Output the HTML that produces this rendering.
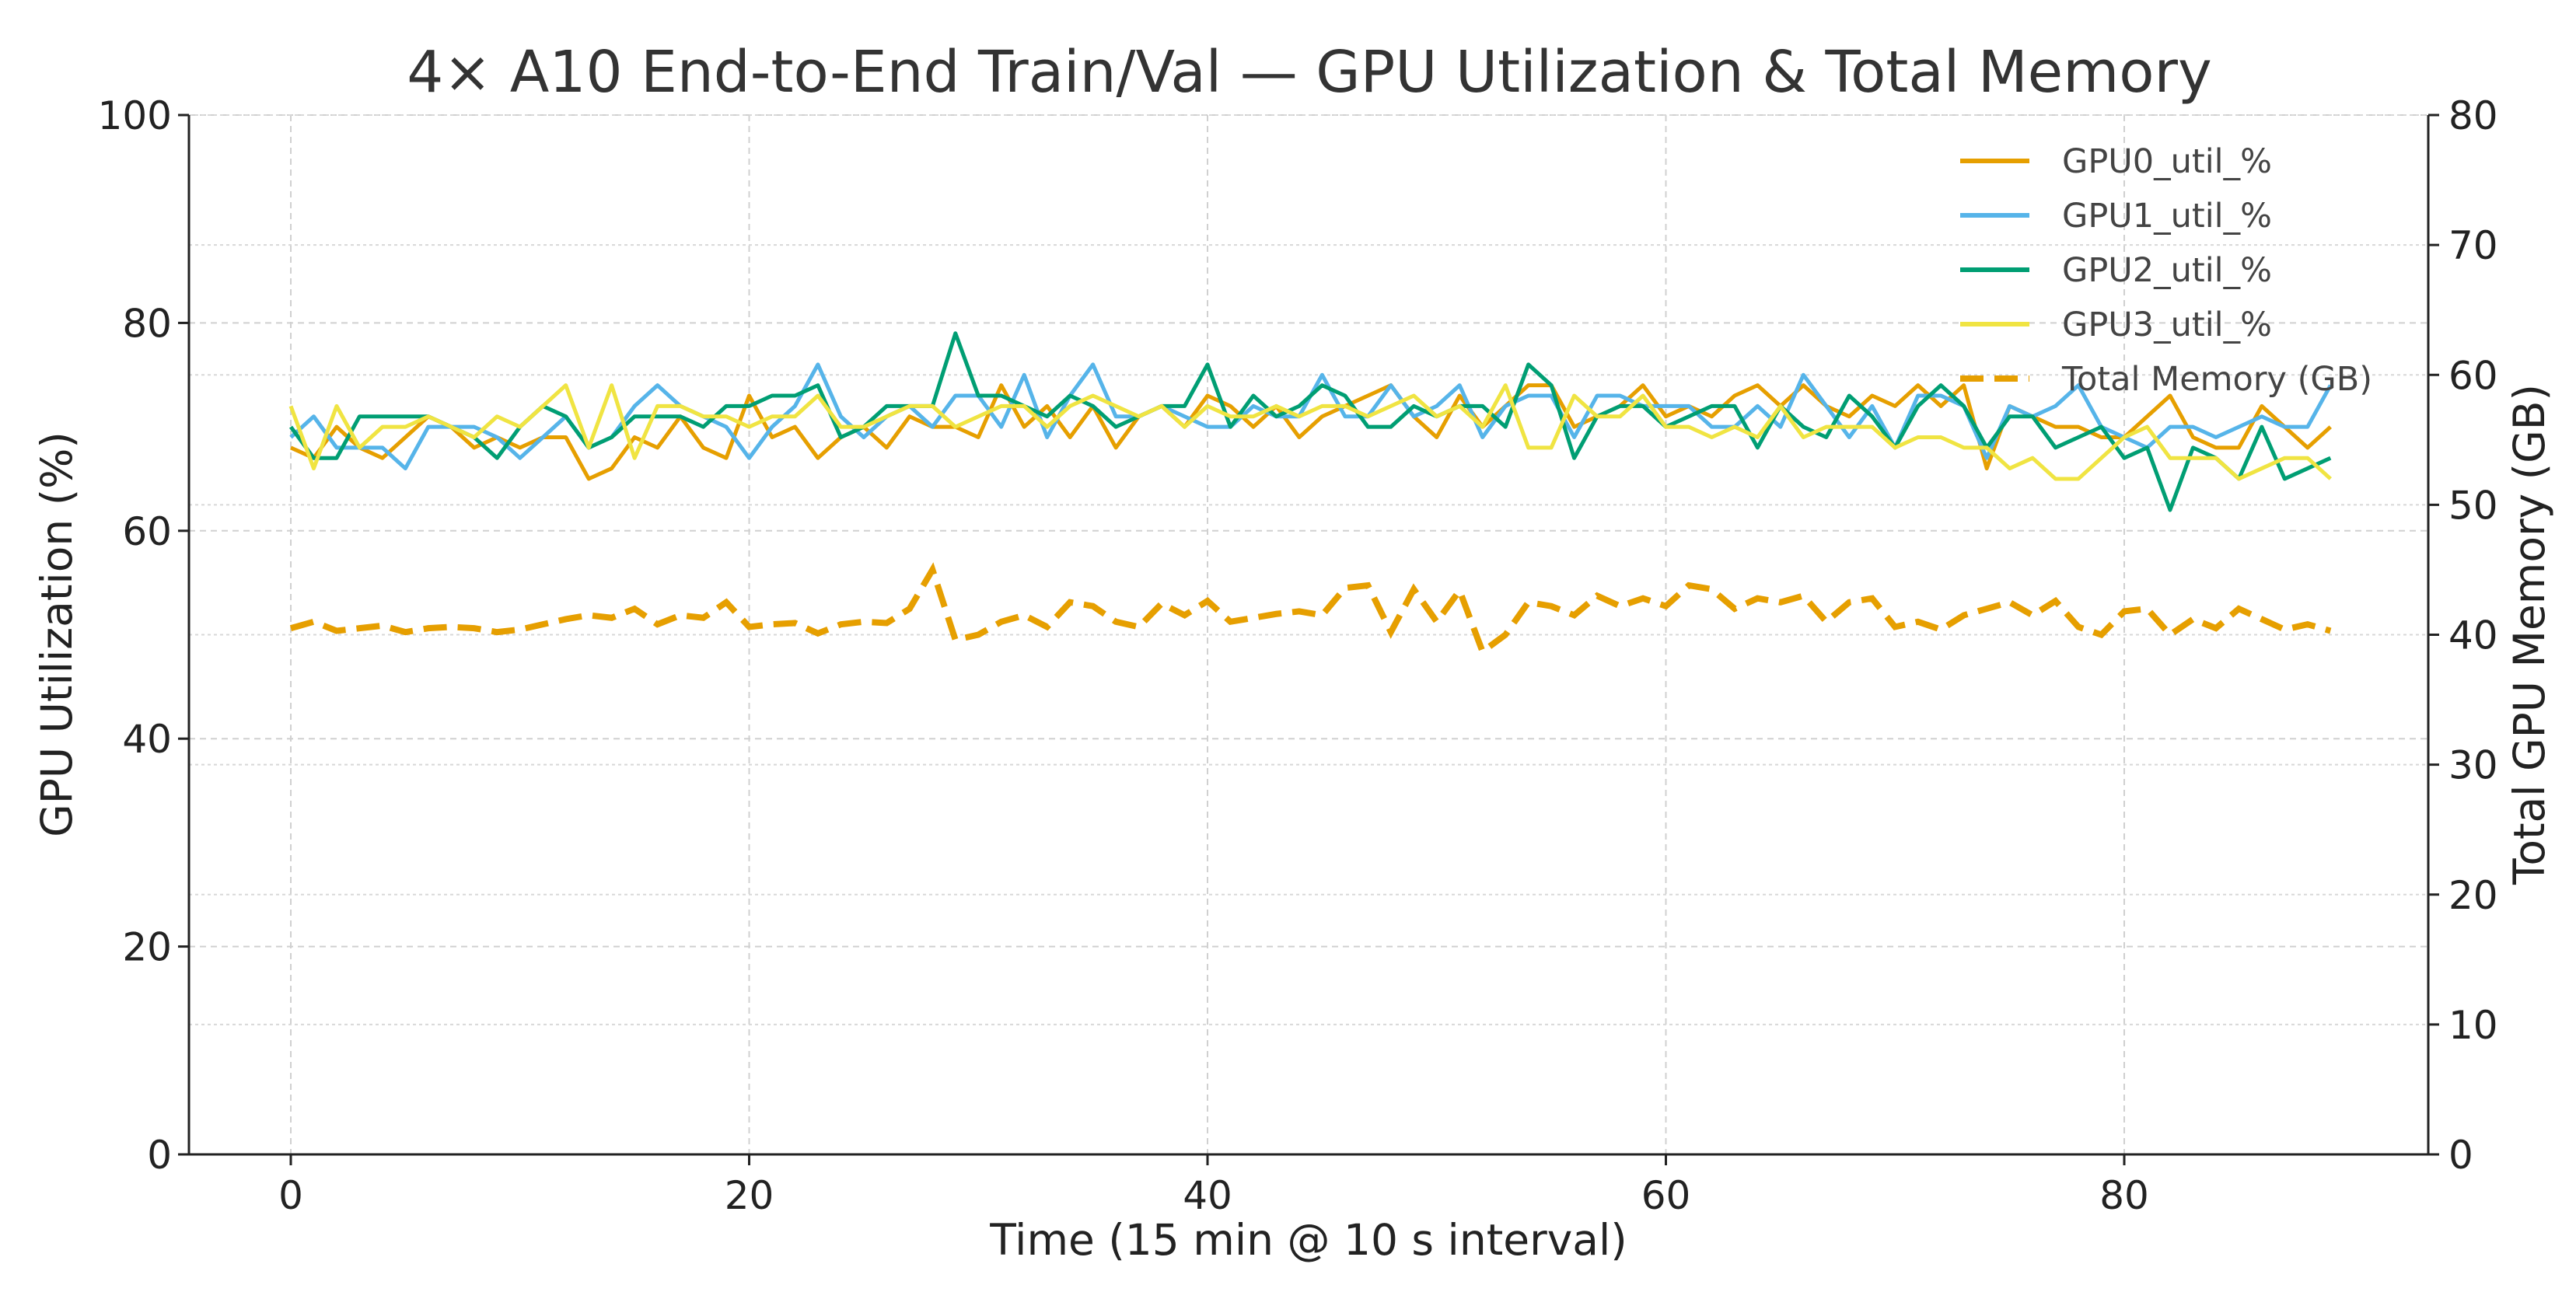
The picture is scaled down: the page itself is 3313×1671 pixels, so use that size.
<!DOCTYPE html>
<html><head><meta charset="utf-8"><style>
html,body{margin:0;padding:0;background:#fff;}
svg text{font-family:"DejaVu Sans","Liberation Sans",sans-serif;}
</style></head><body>
<svg id="chart" width="3313" height="1666" xmlns="http://www.w3.org/2000/svg">
<rect width="3313" height="1666" fill="#fff"/>
<g id="grid"></g><g id="series"></g><g id="axes"></g><g id="legend"></g>
</svg>
<script>
const gpu0 = [68,67,70,68,67,69,71,70,68,69,68,69,69,65,66,69,68,71,68,67,73,69,70,67,69,70,68,71,70,70,69,74,70,72,69,72,68,71,72,70,73,72,70,72,69,71,72,73,74,71,69,73,70,72,74,74,70,71,72,74,71,72,71,73,74,72,74,72,71,73,72,74,72,74,66,72,71,70,70,69,69,71,73,69,68,68,72,70,68,70];
const gpu1 = [69,71,68,68,68,66,70,70,70,69,67,69,71,68,69,72,74,72,71,70,67,70,72,76,71,69,71,72,70,73,73,70,75,69,73,76,71,71,72,71,70,70,72,71,71,75,71,71,74,71,72,74,69,72,73,73,69,73,73,72,72,72,70,70,72,70,75,72,69,72,68,73,73,72,67,72,71,72,74,70,69,68,70,70,69,70,71,70,70,74];
const gpu2 = [70,67,67,71,71,71,71,70,69,67,70,72,71,68,69,71,71,71,70,72,72,73,73,74,69,70,72,72,72,79,73,73,72,71,73,72,70,71,72,72,76,70,73,71,72,74,73,70,70,72,71,72,72,70,76,74,67,71,72,72,70,71,72,72,68,72,70,69,73,71,68,72,74,72,68,71,71,68,69,70,67,68,62,68,67,65,70,65,66,67];
const gpu3 = [72,66,72,68,70,70,71,70,69,71,70,72,74,68,74,67,72,72,71,71,70,71,71,73,70,70,71,72,72,70,71,72,72,70,72,73,72,71,72,70,72,71,71,72,71,72,72,71,72,73,71,72,70,74,68,68,73,71,71,73,70,70,69,70,69,72,69,70,70,70,68,69,69,68,68,66,67,65,65,67,69,70,67,67,67,65,66,67,67,65];
const mem = [40.5,41,40.3,40.5,40.7,40.2,40.5,40.6,40.5,40.2,40.4,40.8,41.2,41.5,41.3,42,40.8,41.5,41.3,42.5,40.6,40.8,40.9,40.1,40.8,41,40.9,42,45,39.6,40,41,41.5,40.6,42.5,42.2,41,40.6,42.4,41.5,42.6,41,41.3,41.6,41.8,41.5,43.6,43.8,40.2,43.5,41,43.4,38.7,40,42.5,42.2,41.5,43,42.2,42.8,42.2,43.8,43.5,42,42.8,42.5,43,41,42.5,42.8,40.6,41,40.4,41.5,42,42.5,41.5,42.6,40.6,40,41.8,42,40,41.2,40.5,42,41.2,40.4,40.8,40.3];
const xTicks = [0,20,40,60,80];
const yLeftTicks = [0,20,40,60,80,100];
const yRightTicks = [0,10,20,30,40,50,60,70,80];
const seriesNames = ["GPU0_util_%","GPU1_util_%","GPU2_util_%","GPU3_util_%","Total Memory (GB)"];

const L=243,R=3123,T=148,B=1485;
const X0=374,XU=(2732-374)/80;
const xs=v=>X0+v*XU;
const yl=v=>B-(v/100)*(B-T);
const yr=v=>B-(v/80)*(B-T);
const NS="http://www.w3.org/2000/svg";
function mk(tag,attrs,parent,text){const e=document.createElementNS(NS,tag);for(const k in attrs)e.setAttribute(k,attrs[k]);if(text!==undefined)e.textContent=text;parent.appendChild(e);return e;}
const grid=document.getElementById('grid'),ser=document.getElementById('series'),ax=document.getElementById('axes'),leg=document.getElementById('legend'),svg=document.getElementById('chart');

xTicks.forEach(t=>{const g=mk('line',{x1:xs(t),x2:xs(t),y1:T,y2:B,stroke:'#d0d0d0','stroke-width':2,'stroke-dasharray':'8,6'},grid);

});
yLeftTicks.forEach(t=>{const g=mk('line',{x1:L,x2:R,y1:yl(t),y2:yl(t),stroke:'#d0d0d0','stroke-width':2,'stroke-dasharray':'8,6'},grid);

});
yRightTicks.forEach(t=>{const g=mk('line',{x1:L,x2:R,y1:yr(t),y2:yr(t),stroke:'#d8d8d8','stroke-width':2,'stroke-dasharray':'4,4'},grid);

});

const colors=['#E69F00','#56B4E9','#009E73','#F0E442'];
[gpu0,gpu1,gpu2,gpu3].forEach((arr,i)=>{
 const p=mk('polyline',{points:arr.map((v,j)=>xs(j)+','+yl(v)).join(' '),fill:'none',stroke:colors[i],'stroke-width':5,'stroke-linejoin':'round'},ser);
 
 
});
const mp=mk('polyline',{points:mem.map((v,j)=>xs(j)+','+yr(v)).join(' '),fill:'none',stroke:'#E69F00','stroke-width':8,'stroke-dasharray':'30,14'},ser);



const fr=mk('path',{d:`M${L},${T}V${B}H${R}V${T}`,fill:'none',stroke:'#222','stroke-width':3},ax);


xTicks.forEach(t=>{mk('line',{x1:xs(t),x2:xs(t),y1:B,y2:B+14,stroke:'#222','stroke-width':3},ax);
 const tx=mk('text',{x:xs(t),y:B+70,'font-size':50,'text-anchor':'middle',fill:'#222'},ax,t);
 
 });
yLeftTicks.forEach(t=>{mk('line',{x1:L-14,x2:L,y1:yl(t),y2:yl(t),stroke:'#222','stroke-width':3},ax);
 const tx=mk('text',{x:L-22,y:yl(t)+18,'font-size':50,'text-anchor':'end',fill:'#222'},ax,t);
 
 });
yRightTicks.forEach(t=>{mk('line',{x1:R,x2:R+14,y1:yr(t),y2:yr(t),stroke:'#222','stroke-width':3},ax);
 const tx=mk('text',{x:R+26,y:yr(t)+18,'font-size':50,'text-anchor':'start',fill:'#222'},ax,t);
 
 });

const ti=mk('text',{x:1684,y:118,'font-size':74,'text-anchor':'middle',fill:'#333'},svg,'4× A10 End-to-End Train/Val — GPU Utilization & Total Memory');


const xl=mk('text',{x:1683,y:1614,'font-size':55,'text-anchor':'middle',fill:'#222'},svg,'Time (15 min @ 10 s interval)');


const ylt=mk('text',{x:0,y:0,'font-size':55,'text-anchor':'middle',fill:'#222',transform:'translate(92,816) rotate(-90)'},svg,'GPU Utilization (%)');


const yrt=mk('text',{x:0,y:0,'font-size':55,'text-anchor':'middle',fill:'#222',transform:'translate(3272,816) rotate(-90)'},svg,'Total GPU Memory (GB)');



seriesNames.forEach((n,i)=>{
 const y=207+i*70;
 const g=mk('g',{},leg);
 
 
 if(i<4) mk('line',{x1:2521,x2:2610,y1:y,y2:y,stroke:colors[i],'stroke-width':6},g);
 else mk('line',{x1:2521,x2:2610,y1:y,y2:y,stroke:'#E69F00','stroke-width':8,'stroke-dasharray':'30,14'},g);
 mk('text',{x:2652,y:y+15,'font-size':43,fill:'#444'},g,n);
});
</script>
</body></html>
